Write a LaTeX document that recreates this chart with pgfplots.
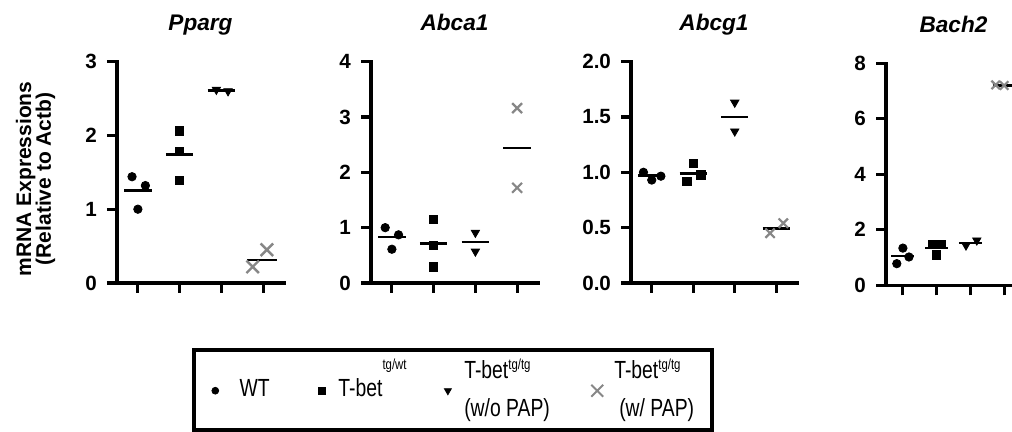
\documentclass[border=0pt]{standalone}
\usepackage{fontspec}
\setmainfont{Liberation Sans}
\newfontfamily\legendfont[FakeStretch=0.78]{Liberation Sans}
\usepackage{pgfplots}
\pgfplotsset{compat=1.18}

\definecolor{xgray}{RGB}{135,135,135}
% raised superscript as in the legend of the original
\newcommand{\sups}[2]{\raisebox{#1}{\fontsize{7.3}{8}\selectfont #2}}

\pgfplotsset{
  panel/.style={
    scale only axis,
    height=110.7pt,
    xmin=0.5, xmax=4.5,
    ymin=0,
    axis lines=left,
    axis line style={-, line width=1.6pt, line cap=rect},
    xtick={1,2,3,4}, xticklabels={},
    tick align=outside,
    major tick length=5pt,
    tick style={line width=1.6pt, black},
    /pgf/number format/assume math mode=true,
    yticklabel style={font=\fontsize{10.3}{11}\bfseries\selectfont, xshift=-1.5pt},
    title style={font=\fontsize{11.3}{12}\bfseries\itshape\selectfont, anchor=base, yshift=9.5pt},
    clip=false,
  },
  wt/.style={only marks, mark=*, mark size=2.1pt, black, forget plot},
  het/.style={only marks, mark=square*, mark size=2.1pt, black, forget plot},
  hom/.style={only marks, mark=triangle*, mark size=2.4pt, black, mark options={rotate=180}, forget plot},
  pap/.style={only marks, mark=x, mark size=4.4pt, xgray, mark options={line width=1.2pt}, forget plot},
  mean/.style={black, line width=1.3pt, mark=none, forget plot},
}

\begin{document}
\begin{tikzpicture}
\useasboundingbox (0,0) rectangle (506pt,216pt);
\clip (0,0) rectangle (506pt,216pt);

% Pparg
\begin{axis}[panel, at={(58.5pt,74.5pt)}, width=83.5pt,
  ymax=3, ytick={0,1,2,3}, title={Pparg},
  ylabel={mRNA Expressions\\(Relative to Actb)},
  ylabel style={at={(axis description cs:-0.368,0.47)}, anchor=south, align=center, inner sep=0pt,
    font=\fontsize{10.5}{9.8}\bfseries\selectfont},
  legend columns=4,
  legend style={at={(axis description cs:0.449,-0.295)}, anchor=north west,
    draw=black, line width=1.9pt, inner xsep=2.5pt, inner ysep=1.2pt,
    font=\legendfont\fontsize{12.4}{18.8}\selectfont,
    column sep=0pt, cells={anchor=base west}, nodes={inner sep=0pt, text depth=}},
  legend image code/.code={\path (-8pt,0pt) (8pt,0pt); \draw[#1] plot coordinates {(0pt,3pt)};},
]
\addlegendimage{only marks, mark=*, mark size=1.7pt, black, line width=0.4pt}
\addlegendentry{\makebox[37pt][l]{\hspace{4pt}WT}}
\addlegendimage{only marks, mark=square*, mark size=1.7pt, black, line width=0.4pt}
\addlegendentry{\makebox[46.5pt][l]{T-bet\sups{13.5pt}{tg/wt}}}
\addlegendimage{only marks, mark=triangle*, mark size=2pt, black, line width=0.4pt, mark options={rotate=180}}
\addlegendentry{\makebox[58pt][l]{\raisebox{8.9pt}{\begin{tabular}[t]{@{}l@{}}T-bet\sups{4.5pt}{tg/tg}\\(w/o PAP)\end{tabular}}}}
\addlegendimage{only marks, mark=x, mark size=4.2pt, xgray, line width=1pt}
\addlegendentry{\makebox[46.5pt][l]{\raisebox{8.9pt}{\begin{tabular}[t]{@{}l@{}}T-bet\sups{4.5pt}{tg/tg}\\\hspace{2.5pt}(w/ PAP)\end{tabular}}}}

\addplot[wt] coordinates {(0.86,1.44) (1.18,1.32) (1.0,1.0)};
\addplot[het] coordinates {(2,2.06) (2,1.78) (2,1.39)};
\addplot[hom] coordinates {(2.88,2.62) (3.16,2.60)};
\addplot[pap] coordinates {(3.75,0.22) (4.09,0.45)};
\addplot[mean] coordinates {(0.67,1.25) (1.33,1.25)};
\addplot[mean] coordinates {(1.67,1.74) (2.33,1.74)};
\addplot[mean] coordinates {(2.67,2.61) (3.33,2.61)};
\addplot[mean] coordinates {(3.61,0.31) (4.33,0.31)};
\end{axis}

% Abca1
\begin{axis}[panel, at={(185.5pt,74.5pt)}, width=83.5pt,
  ymax=4, ytick={0,1,2,3,4}, title={Abca1},
  pap/.append style={mark size=3.5pt, mark options={line width=1.1pt}},
]
\addplot[wt] coordinates {(0.84,1.0) (1.16,0.87) (1.0,0.61)};
\addplot[het] coordinates {(2,1.15) (2,0.68) (2,0.29)};
\addplot[hom] coordinates {(3,0.91) (3,0.57)};
\addplot[pap] coordinates {(4,3.16) (4,1.72)};
\addplot[mean] coordinates {(0.67,0.83) (1.33,0.83)};
\addplot[mean] coordinates {(1.67,0.71) (2.33,0.71)};
\addplot[mean] coordinates {(2.67,0.74) (3.33,0.74)};
\addplot[mean] coordinates {(3.67,2.44) (4.33,2.44)};
\end{axis}

% Abcg1
\begin{axis}[panel, at={(315.5pt,74.5pt)}, width=83pt,
  ymax=2, ytick={0,0.5,1,1.5,2}, yticklabels={0.0,0.5,1.0,1.5,2.0}, title={Abcg1},
  pap/.append style={mark size=3.3pt, mark options={line width=1.1pt}},
]
\addplot[wt] coordinates {(0.8,1.0) (1.0,0.93) (1.22,0.965)};
\addplot[het] coordinates {(2,1.08) (1.85,0.915) (2.18,0.975)};
\addplot[hom] coordinates {(3,1.63) (3,1.37)};
\addplot[pap] coordinates {(3.85,0.45) (4.17,0.54)};
\addplot[mean] coordinates {(0.67,0.97) (1.33,0.97)};
\addplot[mean] coordinates {(1.67,0.99) (2.33,0.99)};
\addplot[mean] coordinates {(2.67,1.5) (3.33,1.5)};
\addplot[mean] coordinates {(3.67,0.49) (4.33,0.49)};
\end{axis}

% Bach2
\begin{axis}[panel, at={(443pt,73.35pt)}, width=67.5pt, height=111pt,
  ymax=8, ytick={0,2,4,6,8}, title={Bach2},
  pap/.append style={mark size=3pt, mark options={line width=1.1pt}},
]
\addplot[wt] coordinates {(1.0,1.34) (1.18,1.02) (0.82,0.78)};
\addplot[het] coordinates {(1.88,1.47) (2.13,1.47) (2,1.1)};
\addplot[hom] coordinates {(2.87,1.44) (3.19,1.62)};
\addplot[pap] coordinates {(3.75,7.22) (4.0,7.2)};
\addplot[mean] coordinates {(0.66,1.05) (1.34,1.05)};
\addplot[mean] coordinates {(1.66,1.34) (2.34,1.34)};
\addplot[mean] coordinates {(2.66,1.53) (3.34,1.53)};
\addplot[mean] coordinates {(3.66,7.21) (4.34,7.21)};
\end{axis}
\end{tikzpicture}
\end{document}
